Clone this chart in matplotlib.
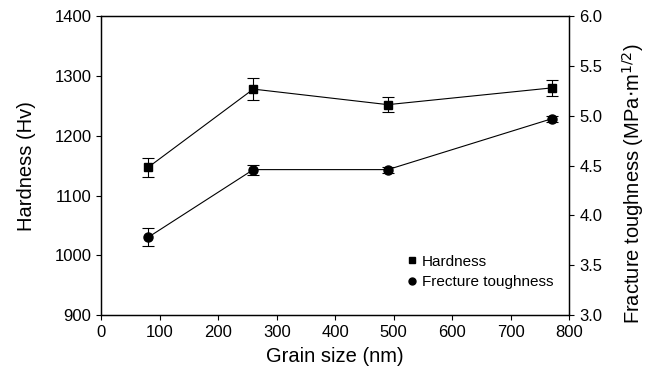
import matplotlib.pyplot as plt
from matplotlib.lines import Line2D

plt.rcParams['font.family'] = ['Liberation Sans', 'DejaVu Sans']

grain = [80, 260, 490, 770]
hardness = [1147, 1278, 1252, 1280]
hardness_err = [16, 19, 12, 14]
toughness = [3.78, 4.46, 4.46, 4.97]
toughness_err = [0.09, 0.05, 0.03, 0.03]

fig = plt.figure(figsize=(6.49, 3.76), dpi=100)
ax = fig.add_axes([0.156, 0.162, 0.721, 0.795])
ax2 = ax.twinx()

ax.errorbar(grain, hardness, yerr=hardness_err, color='black', lw=0.8,
            marker='s', ms=6, capsize=4, elinewidth=0.8, capthick=0.8)
ax2.errorbar(grain, toughness, yerr=toughness_err, color='black', lw=0.8,
             marker='o', ms=6.5, capsize=4, elinewidth=0.8, capthick=0.8)

ax.set_xlim(0, 800)
ax.set_ylim(900, 1400)
ax2.set_ylim(3.0, 6.0)
ax.set_xticks(range(0, 801, 100))
ax.set_yticks(range(900, 1401, 100))
ax2.set_yticks([3.0, 3.5, 4.0, 4.5, 5.0, 5.5, 6.0])
ax2.set_yticklabels(['3.0', '3.5', '4.0', '4.5', '5.0', '5.5', '6.0'])

ax.tick_params(labelsize=12, length=3.5, width=0.8, direction='out')
ax2.tick_params(labelsize=12, length=3.5, width=0.8, direction='out', pad=4)
for a in (ax, ax2):
    for s in a.spines.values():
        s.set_linewidth(0.9)

ax.set_xlabel('Grain size (nm)', fontsize=14.5, labelpad=5)
ax.set_ylabel('Hardness (Hv)', fontsize=14.5)
ax.yaxis.set_label_coords(-0.139, 0.5)
ax2.set_ylabel('Fracture toughness (MPa$\\cdot$m$^{1/2}$)', fontsize=14.5)
ax2.yaxis.set_label_coords(1.108, 0.44)

leg_handles = [Line2D([], [], color='black', marker='s', ls='none', ms=4.5),
               Line2D([], [], color='black', marker='o', ls='none', ms=5)]
ax2.legend(leg_handles, ['Hardness', 'Frecture toughness'], loc='lower right',
           bbox_to_anchor=(0.995, 0.04), frameon=False, fontsize=11,
           handletextpad=0.15, handlelength=1.0, labelspacing=0.45)

fig.savefig('out.png', dpi=100)
